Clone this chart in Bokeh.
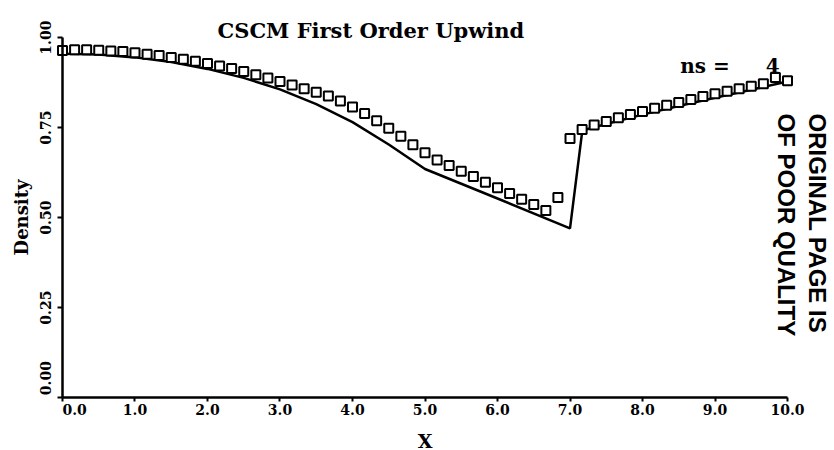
import math
from bokeh.plotting import figure
from bokeh.models import Range1d, FixedTicker, NumeralTickFormatter
from bokeh.core.properties import value
from bokeh.embed import file_html
from bokeh.resources import INLINE

# ---------------- data ----------------
title_text = "CSCM First Order Upwind"
x_label = "X"
y_label = "Density"
ns_label = "ns ="
ns_value = "4"
note_line1 = "ORIGINAL PAGE IS"
note_line2 = "OF POOR QUALITY"

x_ticks = [0.0, 1.0, 2.0, 3.0, 4.0, 5.0, 6.0, 7.0, 8.0, 9.0, 10.0]
y_ticks = [0.0, 0.25, 0.50, 0.75, 1.00]

# exact solution (solid line)
exact_x = [0.0, 0.5, 1.0, 1.5, 2.0, 2.5, 3.0, 3.5, 4.0, 4.5, 5.0, 6.0, 7.0,
           7.17, 7.5, 8.0, 8.5, 9.0, 9.5, 10.0]
exact_y = [0.955, 0.953, 0.945, 0.932, 0.913, 0.888, 0.856, 0.815, 0.765, 0.703,
           0.635, 0.553, 0.470, 0.742, 0.760, 0.786, 0.810, 0.833, 0.855, 0.878]

# first order upwind solution (squares)
upwind_x = [0.0, 0.167, 0.333, 0.5, 0.667, 0.833, 1.0, 1.167, 1.333, 1.5,
            1.667, 1.833, 2.0, 2.167, 2.333, 2.5, 2.667, 2.833, 3.0, 3.167,
            3.333, 3.5, 3.667, 3.833, 4.0, 4.167, 4.333, 4.5, 4.667, 4.833,
            5.0, 5.167, 5.333, 5.5, 5.667, 5.833, 6.0, 6.167, 6.333, 6.5,
            6.667, 6.833, 7.0, 7.167, 7.333, 7.5, 7.667, 7.833, 8.0, 8.167,
            8.333, 8.5, 8.667, 8.833, 9.0, 9.167, 9.333, 9.5, 9.667, 9.833, 10.0]
upwind_y = [0.964, 0.966, 0.966, 0.965, 0.963, 0.961, 0.958, 0.954, 0.950, 0.945,
            0.940, 0.934, 0.928, 0.921, 0.914, 0.906, 0.897, 0.888, 0.878, 0.868,
            0.858, 0.848, 0.838, 0.824, 0.807, 0.789, 0.769, 0.748, 0.726, 0.702,
            0.680, 0.660, 0.645, 0.629, 0.614, 0.598, 0.583, 0.567, 0.551, 0.536,
            0.520, 0.556, 0.720, 0.745, 0.757, 0.767, 0.777, 0.786, 0.795, 0.804,
            0.812, 0.820, 0.828, 0.836, 0.844, 0.851, 0.858, 0.865, 0.872, 0.889, 0.880]

# ---------------- figure ----------------
SERIF = "DejaVu Serif"
SANS = "Liberation Sans"
NBSP = "\u00a0"

p = figure(width=834, height=450,
           x_range=Range1d(-0.855, 10.648), y_range=Range1d(-0.147, 1.103),
           output_backend="svg", toolbar_location=None,
           min_border_left=0, min_border_right=0,
           min_border_top=0, min_border_bottom=0)
p.grid.visible = False
p.outline_line_color = None
p.background_fill_color = "white"
p.border_fill_color = "white"

# x axis (drawn at y = 0)
xa = p.xaxis[0]
xa.ticker = FixedTicker(ticks=x_ticks)
xa.formatter = NumeralTickFormatter(format="0.0")
xa.major_label_overrides = {0: NBSP * 5 + "0.0"}
xa.bounds = (0, 10)
xa.fixed_location = 0
xa.axis_line_width = 2.5
xa.axis_line_color = "black"
xa.major_tick_line_width = 2
xa.major_tick_line_color = "black"
xa.major_tick_out = 4
xa.major_tick_in = 0
xa.minor_tick_line_color = None
xa.major_label_text_font = SERIF
xa.major_label_text_font_style = "bold"
xa.major_label_text_font_size = "14px"
xa.major_label_text_color = "black"
xa.major_label_standoff = 0
xa.axis_label = x_label
xa.axis_label_text_font = SERIF
xa.axis_label_text_font_style = "bold"
xa.axis_label_text_font_size = "19px"
xa.axis_label_text_color = "black"
xa.axis_label_standoff = 9

# y axis (drawn at x = 0)
ya = p.yaxis[0]
ya.ticker = FixedTicker(ticks=y_ticks)
ya.formatter = NumeralTickFormatter(format="0.00")
ya.major_label_overrides = {0: NBSP * 8 + "0.00"}
ya.bounds = (0, 1)
ya.fixed_location = 0
ya.axis_line_width = 2.5
ya.axis_line_color = "black"
ya.major_tick_line_width = 2
ya.major_tick_line_color = "black"
ya.major_tick_out = 5
ya.major_tick_in = 0
ya.minor_tick_line_color = None
ya.major_label_orientation = "vertical"
ya.major_label_text_font = SERIF
ya.major_label_text_font_style = "bold"
ya.major_label_text_font_size = "14px"
ya.major_label_text_color = "black"
ya.major_label_standoff = 3
ya.axis_label = y_label
ya.axis_label_text_font = SERIF
ya.axis_label_text_font_style = "bold"
ya.axis_label_text_font_size = "18px"
ya.axis_label_text_color = "black"
ya.axis_label_standoff = 4

# data
p.line(exact_x, exact_y, line_color="black", line_width=2.5)
p.scatter(upwind_x, upwind_y, marker="square", size=9,
          line_color="black", line_width=2, fill_color="white")

# texts
p.text(x=[2.138], y=[1.019], text=[title_text],
       text_font=value(SERIF), text_font_style="bold", text_font_size="21px",
       text_color="black", text_align="left", text_baseline="alphabetic")
p.text(x=[8.52], y=[0.922], text=[ns_label],
       text_font=value(SERIF), text_font_style="bold", text_font_size="20px",
       text_color="black", text_align="left", text_baseline="alphabetic")
p.text(x=[9.89], y=[0.922], text=[ns_value],
       text_font=value(SERIF), text_font_style="bold", text_font_size="20px",
       text_color="black", text_align="right", text_baseline="alphabetic")
p.text(x=[10.414], y=[0.789], text=[note_line1], angle=-math.pi / 2,
       text_font=value(SANS), text_font_style="bold", text_font_size="24px",
       text_color="black", text_align="left", text_baseline="middle")
p.text(x=[9.986], y=[0.789], text=[note_line2], angle=-math.pi / 2,
       text_font=value(SANS), text_font_style="bold", text_font_size="24px",
       text_color="black", text_align="left", text_baseline="middle")

open("out.html", "w").write(file_html(p, INLINE))
